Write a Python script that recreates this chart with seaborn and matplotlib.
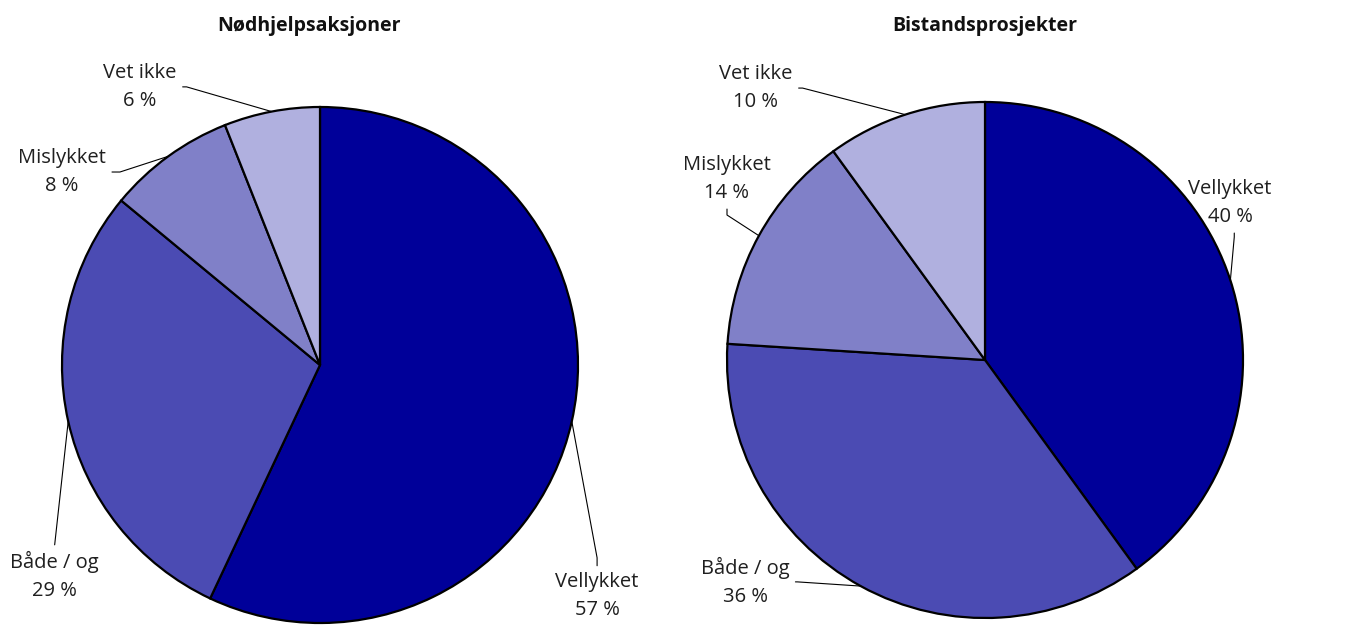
import numpy as np
import matplotlib
matplotlib.use("Agg")
import matplotlib.pyplot as plt
import seaborn as sns

sns.set_theme(style="white")
plt.rcParams['font.family'] = ['Open Sans', 'DejaVu Sans']

# data
titles = ["Nødhjelpsaksjoner", "Bistandsprosjekter"]
categories = ["Vellykket", "Både / og", "Mislykket", "Vet ikke"]
nodhjelp = [57, 29, 8, 6]
bistand = [40, 36, 14, 10]
colors = ["#000099", "#4b4bb3", "#8080c8", "#b0b0df"]

# label placement (text centre, side of text the leader starts from, arm angle/length)
left_labels = [((1.074, -0.895), (0.5, 1.0), 90, 14),
               ((-1.031, -0.818), (0.5, 1.0), 90, 0),
               ((-1.0, 0.748), (1.0, 0.5), 0, 14),
               ((-0.698, 1.078), (1.0, 0.5), 0, 10)]
right_labels = [((0.950, 0.609), (0.55, 0.0), -90, 10),
                ((-0.930, -0.860), (1.0, 0.5), 0, 8),
                ((-1.0, 0.702), (0.5, 0.0), -90, 12),
                ((-0.888, 1.054), (1.0, 0.5), 0, 10)]

W, H = 1353, 633
fig = plt.figure(figsize=(W / 100, H / 100), dpi=100)
r = 258
ax1 = fig.add_axes([(320 - r) / W, (H - 365 - r) / H, 2 * r / W, 2 * r / H])
ax2 = fig.add_axes([(985 - r) / W, (H - 360 - r) / H, 2 * r / W, 2 * r / H])

for ax, vals, labs in [(ax1, nodhjelp, left_labels), (ax2, bistand, right_labels)]:
    wedges, _ = ax.pie(vals, colors=colors, startangle=90, counterclock=False,
                       wedgeprops=dict(edgecolor="black", linewidth=1.6))
    for w, cat, v, (txy, rel, ang, arm) in zip(wedges, categories, vals, labs):
        mid = np.deg2rad((w.theta1 + w.theta2) / 2)
        pt = (np.cos(mid), np.sin(mid))
        cs = f"arc,angleA={ang},armA={arm},rad=0" if arm else "arc3"
        ax.annotate(f"{cat}\n{v} %", xy=pt, xytext=txy, ha="center", va="center",
                    fontsize=14.5, color="#1f1f1f", linespacing=1.55,
                    arrowprops=dict(arrowstyle="-", color="black", lw=0.8,
                                    relpos=rel, connectionstyle=cs,
                                    shrinkA=2, shrinkB=0))
    ax.set_xlim(-1, 1)
    ax.set_ylim(-1, 1)
    ax.set_aspect("equal")
    ax.axis("off")

fig.text(309 / W, 1 - 26 / H, titles[0], ha="center", va="center",
         fontsize=14, fontweight="bold", color="#111111")
fig.text(985 / W, 1 - 26 / H, titles[1], ha="center", va="center",
         fontsize=14, fontweight="bold", color="#111111")

fig.savefig("out.png", dpi=100, facecolor="white")
